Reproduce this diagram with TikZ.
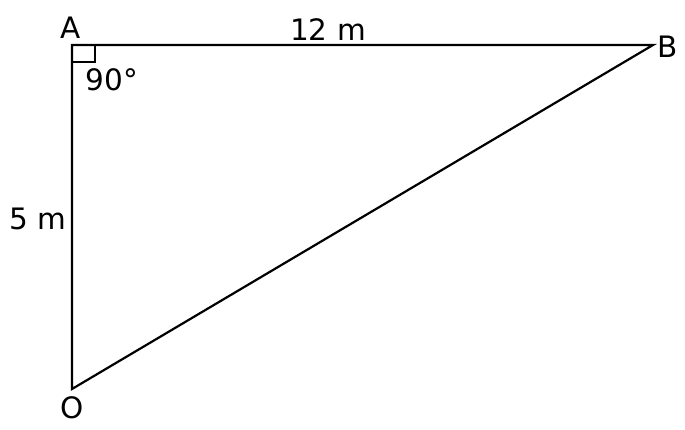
\documentclass[tikz,border=0pt]{standalone}
\usepackage{fontspec}
\setmainfont{DejaVu Sans}
\begin{document}
\begin{tikzpicture}[x=1pt,y=-1pt,
  edge/.style={line width=2.2pt, line join=miter},
  lbl/.style={inner sep=0pt, font=\fontsize{29.5}{34}\selectfont}]
\useasboundingbox (0,0) rectangle (685,430);
\coordinate (A) at (72,45);
\coordinate (B) at (653,45);
\coordinate (O) at (72,389);
\draw[edge] (B) -- (A) -- (O) -- cycle;
\draw[line width=2pt] (72,62) coordinate (r1) -- (95,62) coordinate (r2) -- (95,45) coordinate (r3);
\node[lbl] (lA) at (71,28) {A};
\node[lbl] (lB) at (668,47) {B};
\node[lbl] (lO) at (72,408) {O};
\node[lbl] (l12) at (328,30) {12 m};
\node[lbl] (l5) at (38,219) {5 m};
\node[lbl] (l90) at (112,80) {90°};
\end{tikzpicture}
\end{document}
